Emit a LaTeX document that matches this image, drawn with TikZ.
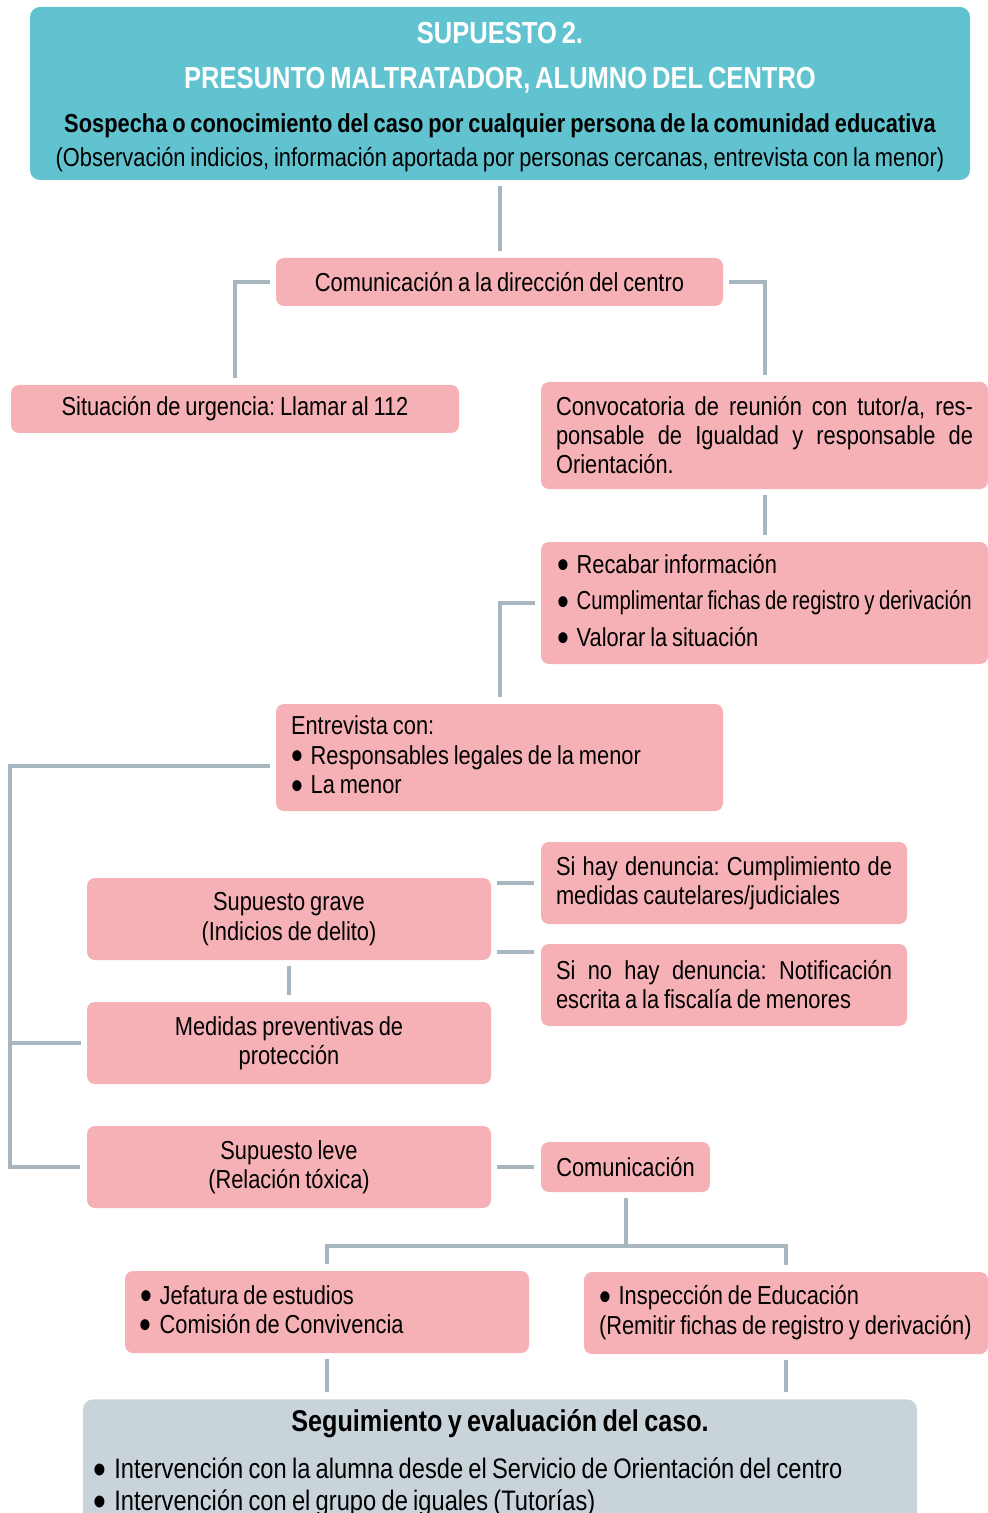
\documentclass[tikz,border=0pt]{standalone}
\usepackage{graphicx}
\usepackage{fontspec}
\setmainfont{Liberation Sans}[FakeStretch=0.84, WordSpace=0.8]
\usetikzlibrary{positioning}
\definecolor{headcyan}{HTML}{62C3D0}
\definecolor{boxpink}{HTML}{F6B1B6}
\definecolor{boxgrey}{HTML}{C9D3DA}
\definecolor{linegrey}{HTML}{A8B6C0}
\newcommand{\bul}{\raisebox{-0.22em}{\scalebox{1.55}{•}}\hspace{0.3em}}
\tikzset{
  every node/.style = {execute at begin node={\spaceskip=\fontdimen2\font\xspaceskip=0pt\frenchspacing}},
  pinkbox/.style = {rectangle, rounded corners=4pt, fill=boxpink,
                    inner xsep=7.5pt, inner ysep=2pt, align=center},
  listbox/.style = {pinkbox, align=left},
  justbox/.style = {pinkbox, align=justify,
                    execute at begin node={\spaceskip=0pt}},
  headbox/.style = {rectangle, rounded corners=5pt, fill=headcyan,
                    inner sep=2pt, align=center,
                    font=\fontsize{13}{17}\selectfont},
  greybox/.style = {rectangle, rounded corners=5pt, fill=boxgrey,
                    inner xsep=5pt, inner ysep=5pt, align=center},
  link/.style = {draw=linegrey, line width=2pt,
                 shorten <=3pt, shorten >=3.5pt}
}

\begin{document}
\begin{tikzpicture}[x=0.5pt, y=-0.5pt, font=\fontsize{13}{14.5}\selectfont]
\clip (0,0) rectangle (988,1513);

\node (head) [headbox, minimum width=470pt, minimum height=86.5pt] at (500,93.5)
  {\rule{0pt}{14.6pt}\textcolor{white}{\fontsize{15.2}{17}\selectfont\bfseries SUPUESTO 2.}\\[5.5pt]
   \textcolor{white}{\fontsize{15.2}{17}\selectfont\bfseries PRESUNTO MALTRATADOR, ALUMNO DEL CENTRO}\\[5pt]
   \textbf{Sospecha o conocimiento del caso por cualquier persona de la comunidad educativa}\\
   (Observación indicios, información aportada por personas cercanas, entrevista con la menor)};

\node (dir) [pinkbox, minimum width=223.5pt, minimum height=24pt] at (499.5,282)
  {Comunicación a la dirección del centro};
\node (urg) [pinkbox, minimum width=224pt, minimum height=24pt] at (235,409)
  {Situación de urgencia: Llamar al 112};
\node (conv) [justbox, text width=208.5pt, minimum height=53.5pt] at (764.5,435.5)
  {Convocatoria de reunión con tutor/a, res-\linebreak ponsable de Igualdad y responsable de\linebreak Orientación.};
\node (tasks) [listbox, inner xsep=8pt, text width=207.5pt, minimum height=61pt,
  font=\fontsize{13}{18.25}\selectfont] at (764.5,603)
  {\bul Recabar información\\
   \bul\scalebox{0.93}[1]{Cumplimentar fichas de registro y derivación}\\
   \bul Valorar la situación};
\node (entre) [listbox, text width=208.5pt, minimum height=53.5pt,
  font=\fontsize{13}{14.75}\selectfont] at (499.5,757.5)
  {Entrevista con:\\
   \bul Responsables legales de la menor\\
   \bul La menor};

\node (grave) [pinkbox, minimum width=202pt, minimum height=41pt,
  font=\fontsize{13}{15}\selectfont] at (289,919)
  {Supuesto grave\\(Indicios de delito)};
\node (medidas) [pinkbox, minimum width=202pt, minimum height=41pt] at (289,1043)
  {Medidas preventivas de\\protección};
\node (leve) [pinkbox, minimum width=202pt, minimum height=41pt] at (289,1167)
  {Supuesto leve\\(Relación tóxica)};
\node (hay) [justbox, text width=168pt, minimum height=41pt] at (724,883)
  {Si hay denuncia: Cumplimiento de\linebreak medidas cautelares/judiciales};
\node (nohay) [justbox, text width=168pt, minimum height=41pt] at (724,985)
  {Si no hay denuncia: Notificación\linebreak escrita a la fiscalía de menores};
\node (comu) [pinkbox, minimum width=84.5pt, minimum height=25pt] at (625.5,1167)
  {Comunicación};

\node (jefa) [listbox, text width=187pt, minimum height=41pt] at (327,1312)
  {\bul Jefatura de estudios\\
   \bul Comisión de Convivencia};
\node (insp) [listbox, text width=187pt, minimum height=41pt,
  font=\fontsize{13}{15}\selectfont] at (786,1313)
  {\bul Inspección de Educación\\
   \mbox{(Remitir fichas de registro y derivación)}};

\node (segui) [greybox, text width=407pt, anchor=north,
  font=\fontsize{14.1}{16}\selectfont] at (500,1399)
  {\makebox[\hsize][c]{\bfseries\fontsize{15}{16}\selectfont Seguimiento y evaluación del caso.}\\[7.5pt]
   \makebox[\hsize][l]{\bul Intervención con la alumna desde el Servicio de Orientación del centro}\\
   \makebox[\hsize][l]{\bul Intervención con el grupo de iguales (Tutorías)}\\[4pt]
   \mbox{}};

\coordinate (spine) at (10,1167);
\coordinate (split) at (625.5,1246);

% connectors
\draw[link] (head.south) -- (head.south |- dir.north);
\draw[link] (dir.west) -| (urg.north);
\draw[link] (dir.east) -| (conv.north);
\draw[link] (conv.south) -- (tasks.north);
\draw[link] (tasks.west) -| (entre.north);
\draw[link] ([yshift=-4pt]entre.west) -| (spine) -- (leve.west);
\draw[link, shorten >=0pt] (medidas.west) -- (medidas.west -| spine);
\draw[link] (grave.east |- hay.west) -- (hay.west);
\draw[link] ([yshift=-4pt]nohay.north west -| grave.east) -- ([yshift=-4pt]nohay.north west);
\draw[link] (grave.south) -- (medidas.north);
\draw[link] (leve.east) -- (comu.west);
\draw[link, shorten >=0pt] (comu.south) -- (split);
\draw[link, shorten <=0pt] (split) -| (jefa.north);
\draw[link, shorten <=0pt] (split) -| (insp.north);
\draw[link] (jefa.south) -- (jefa.south |- segui.north);
\draw[link] (insp.south) -- (insp.south |- segui.north);

\end{tikzpicture}
\end{document}
